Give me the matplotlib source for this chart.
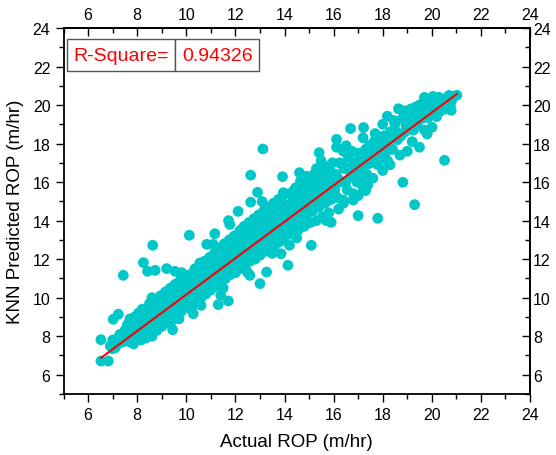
import numpy as np
import matplotlib
matplotlib.use("Agg")
import matplotlib.pyplot as plt
from matplotlib.ticker import MultipleLocator

plt.rcParams['font.family'] = ['Liberation Sans', 'DejaVu Sans']

# dense band of points (actual, predicted)
band_x = [6.9, 7.0, 7.1, 7.2, 7.3, 7.4, 7.5, 7.55, 7.6, 7.0, 7.2,
          7.7, 7.7, 7.75, 7.8, 7.85, 7.9, 7.95, 8.0, 8.0, 8.05, 8.1, 8.15, 8.2, 8.2, 8.25, 8.3, 8.3,
          8.35, 8.4, 8.45, 8.5, 8.5, 8.55, 8.6, 8.6, 8.6,
          8.7, 8.7, 8.75, 8.8, 8.85, 8.9, 8.95, 9.0, 9.0, 9.05, 9.1, 9.15, 9.2, 9.2, 9.25, 9.3, 9.35,
          9.4, 9.4, 9.45, 9.5, 9.55, 9.6, 9.6, 9.65, 9.7, 9.75, 9.8, 9.8, 9.85, 9.9, 9.95, 10.0, 10.0,
          10.05, 10.1, 10.15, 10.2, 10.2, 10.25, 10.3, 10.35, 10.4, 10.4, 10.45, 10.5, 10.55, 10.6,
          10.6, 10.65, 10.7, 10.75, 10.8, 10.8, 10.85, 10.9, 10.95, 11.0, 11.0, 11.05, 11.1, 11.15,
          11.2, 11.2, 11.25, 11.3, 11.35, 11.4, 11.4, 11.45, 11.5, 11.55, 11.6, 11.6, 11.65, 11.7,
          11.75, 11.8, 11.8, 11.85, 11.9, 11.95, 12.0, 12.0,
          12.05, 12.1, 12.15, 12.2, 12.2, 12.25, 12.3, 12.35, 12.4, 12.4, 12.45, 12.5, 12.55, 12.6,
          12.6, 12.65, 12.7, 12.75, 12.8, 12.8, 12.85, 12.9, 12.95, 13.0, 13.0, 13.05, 13.1, 13.15,
          13.2, 13.2, 13.25, 13.3, 13.35, 13.4, 13.4, 13.45, 13.5, 13.55, 13.6, 13.6, 13.65, 13.7,
          13.75, 13.8, 13.8, 13.85, 13.9, 13.95, 14.0, 14.0,
          14.1, 14.15, 14.2, 14.25, 14.3, 14.35, 14.4, 14.45, 14.5, 14.55, 14.6, 14.65, 14.7, 14.75,
          14.8, 14.85, 14.9, 14.95, 15.0, 15.05, 15.1, 15.15, 15.2, 15.25, 15.3, 15.35, 15.4, 15.45,
          15.5, 15.55, 15.6, 15.65, 15.7, 15.75, 15.8, 15.85, 15.9, 15.95, 16.0,
          16.1, 16.15, 16.25, 16.3, 16.4, 16.45, 16.55, 16.6, 16.7, 16.8, 16.85, 16.95, 17.0, 17.1,
          17.2, 17.25, 17.35, 17.45, 17.5, 17.6, 17.7, 17.8, 17.85, 17.95, 18.0,
          18.1, 18.2, 18.3, 18.4, 18.5, 18.6, 18.7, 18.8, 18.9, 19.0, 19.1, 19.2, 19.3, 19.4, 19.5,
          19.6, 19.7, 19.8, 19.9, 20.0, 20.1, 20.2, 20.3, 20.4, 20.5, 20.6, 20.7, 20.8]
band_y = [7.5, 7.8, 7.4, 7.9, 8.1, 7.7, 8.3, 7.9, 8.6, 7.35, 7.6,
          8.0, 8.9, 7.7, 8.4, 7.6, 9.0, 8.2, 8.6, 7.9, 9.2, 8.3, 7.8, 8.8, 9.4, 8.1, 8.5, 9.0,
          7.9, 8.7, 9.3, 8.2, 9.7, 8.9, 8.0, 9.4, 10.0,
          8.6, 9.1, 9.8, 8.3, 9.5, 8.9, 10.1, 9.2, 8.5, 9.7, 8.9, 10.3, 9.4, 8.7, 9.9, 9.1, 10.5,
          9.6, 8.8, 10.0, 9.3, 10.7, 9.8, 9.0, 10.3, 9.5, 10.9, 10.0, 9.3, 10.5, 9.7, 11.0, 10.2, 9.5,
          10.7, 9.9, 11.2, 10.4, 9.4, 10.9, 10.1, 11.5, 10.6, 9.8, 11.1, 10.3, 11.8, 10.8,
          10.0, 11.3, 10.5, 11.9, 11.0, 10.2, 11.6, 10.7, 12.1, 11.2, 10.4, 11.8, 10.9, 12.3,
          11.4, 10.6, 12.0, 11.1, 12.6, 11.6, 10.8, 12.2, 11.3, 12.8, 11.8, 11.0, 12.4, 11.5,
          13.0, 12.0, 11.2, 12.6, 11.7, 13.2, 12.2, 11.3,
          12.8, 11.8, 13.4, 12.4, 11.5, 13.0, 12.0, 13.7, 12.6, 11.6, 13.2, 12.2, 13.9, 12.8,
          11.9, 13.4, 12.4, 14.1, 13.0, 12.0, 13.6, 12.6, 14.3, 13.2, 12.2, 13.8, 12.8, 14.5,
          13.4, 12.4, 14.0, 13.0, 14.7, 13.6, 12.5, 14.2, 13.1, 14.9, 13.8, 12.7, 14.4, 13.3,
          15.1, 14.0, 12.9, 14.6, 13.5, 15.3, 14.2, 13.1,
          14.8, 13.6, 15.4, 14.3, 13.3, 15.0, 13.9, 15.7, 14.5, 13.5, 15.2, 14.1, 16.0, 14.7,
          13.7, 15.4, 14.3, 16.2, 14.9, 13.9, 15.6, 14.5, 16.4, 15.1, 14.0, 15.8, 14.7, 16.6,
          15.3, 14.2, 16.0, 14.9, 16.8, 15.5, 14.4, 16.2, 15.1, 17.0, 15.7,
          16.4, 15.2, 17.0, 16.0, 14.9, 16.7, 15.6, 17.3, 16.3, 15.4, 17.0, 16.0, 17.5, 16.6,
          15.7, 17.3, 16.4, 17.9, 17.0, 16.2, 17.6, 16.9, 18.3, 17.3, 16.6,
          18.0, 17.1, 18.6, 17.7, 19.0, 18.2, 17.4, 19.3, 18.6, 19.7, 18.9, 18.1, 19.5, 19.0, 20.0,
          19.3, 18.7, 19.9, 20.3, 19.6, 20.2, 19.4, 20.4, 19.9, 20.3, 19.8, 20.5, 20.2]

# extra points filling the gaps inside the band and roughening its edges
fill_x = [7.65, 7.72, 7.83, 7.88, 7.97, 8.03, 8.08, 8.12, 8.18, 8.27, 8.33, 8.38, 8.42, 8.48, 8.53, 8.58,
          8.65, 8.72, 8.78, 8.83, 8.92, 8.97, 9.03, 9.08, 9.13, 9.18, 9.23, 9.28, 9.33, 9.38, 9.43,
          9.48, 9.53, 9.58, 9.63, 9.68, 9.72, 9.78, 9.83, 9.88, 9.93, 9.97,
          10.03, 10.08, 10.12, 10.18, 10.23, 10.28, 10.33, 10.38, 10.43, 10.48, 10.53, 10.58, 10.63,
          10.68, 10.73, 10.78, 10.83, 10.88, 10.93, 10.97, 11.03, 11.08, 11.13, 11.18, 11.23, 11.28,
          11.33, 11.38, 11.43, 11.48, 11.53, 11.58, 11.63, 11.68, 11.73, 11.78, 11.83, 11.88, 11.93, 11.98,
          12.03, 12.08, 12.13, 12.18, 12.23, 12.28, 12.33, 12.38, 12.43, 12.48, 12.53, 12.58, 12.63,
          12.68, 12.73, 12.78, 12.83, 12.88, 12.93, 12.98, 13.03, 13.08, 13.13, 13.18, 13.23, 13.28,
          13.33, 13.38, 13.43, 13.48, 13.53, 13.58, 13.63, 13.68, 13.73, 13.78, 13.83, 13.88, 13.93, 13.98,
          14.05, 14.12, 14.18, 14.22, 14.28, 14.32, 14.38, 14.42, 14.48, 14.52, 14.58, 14.62, 14.68,
          14.72, 14.78, 14.82, 14.88, 14.92, 14.98, 15.02, 15.08, 15.12, 15.18, 15.22, 15.28, 15.32,
          15.38, 15.42, 15.48, 15.52, 15.58, 15.62, 15.68, 15.72, 15.78, 15.82, 15.88, 15.92, 15.98,
          16.05, 16.2, 16.35, 16.5, 16.65, 16.75, 16.9, 17.05, 17.15, 17.3, 17.4, 17.55, 17.65, 17.75,
          17.9, 18.05,
          18.15, 18.35, 18.45, 18.55, 18.75, 18.85, 18.95, 19.05, 19.15, 19.25, 19.35, 19.45, 19.55,
          19.65, 19.75, 19.85, 19.95, 20.05, 20.15, 20.25, 20.35, 20.45, 20.55, 20.65, 20.75, 20.9,
          14.4, 14.9, 15.3, 13.6, 12.2, 11.3, 10.5, 15.7, 14.5, 13.5, 12.5, 11.5, 10.6, 9.7,
          16.2, 17.0, 18.3, 19.0, 18.0, 17.2, 16.4, 13.95, 14.65]
fill_y = [8.25, 7.85, 8.65, 8.05, 8.45, 8.15, 8.85, 8.55, 9.05, 8.35, 8.75, 9.15, 8.45, 8.95, 8.55, 9.15,
          8.75, 9.35, 8.95, 9.25, 9.35, 8.75, 9.55, 9.25, 9.6, 9.1, 9.55, 9.75, 9.3, 10.0, 9.45,
          9.85, 10.1, 9.55, 10.0, 10.4, 9.8, 10.25, 9.75, 10.15, 10.5, 9.9,
          10.35, 10.6, 10.15, 10.75, 10.25, 10.6, 10.95, 10.35, 10.8, 10.55, 11.1, 10.6, 11.0,
          11.4, 10.8, 11.3, 10.9, 11.25, 11.55, 11.0, 11.5, 11.2, 11.7, 11.1, 11.55, 11.85,
          11.3, 11.95, 11.5, 11.95, 11.6, 12.25, 11.7, 12.05, 12.4, 11.75, 12.3, 12.05, 12.55, 11.9,
          12.5, 12.1, 12.75, 12.3, 12.65, 13.15, 12.45, 12.95, 12.3, 12.85, 13.35, 12.55, 13.05,
          12.7, 13.3, 12.45, 13.2, 13.6, 12.95, 13.5, 12.6, 13.3, 13.8, 13.1, 13.65, 12.8,
          13.45, 14.05, 13.25, 13.85, 13.45, 14.25, 13.2, 13.95, 13.6, 14.35, 13.3, 14.05, 13.75, 14.6,
          13.7, 14.45, 14.0, 14.75, 13.95, 14.6, 15.25, 14.2, 14.9, 15.35, 14.4, 14.85, 15.55,
          14.3, 15.1, 15.75, 14.6, 15.3, 15.8, 14.5, 15.25, 16.0, 14.8, 15.55, 16.1, 14.75,
          15.45, 16.25, 15.05, 15.7, 16.4, 15.2, 15.85, 16.3, 15.05, 15.75, 16.55, 15.4, 16.05,
          15.6, 16.15, 16.9, 16.0, 16.75, 17.6, 16.5, 17.05, 16.2, 17.7, 16.95, 17.4, 18.1, 17.2,
          17.85, 18.4,
          17.6, 18.25, 19.2, 18.6, 18.4, 19.7, 18.95, 19.25, 19.8, 18.7, 19.9, 19.45, 19.7,
          20.1, 19.6, 19.35, 19.9, 20.45, 19.85, 20.05, 20.3, 20.1, 20.0, 20.35, 19.95, 20.45,
          15.6, 16.3, 16.7, 14.9, 13.5, 12.4, 11.5, 14.0, 13.1, 12.3, 11.3, 10.5, 9.6, 8.9,
          14.6, 15.3, 16.9, 17.6, 19.0, 18.3, 17.6, 15.45, 16.05]

# scattered points away from the band
out_x = [13.12, 12.62, 12.9, 12.62, 13.09, 12.11, 11.72, 11.77,
         21.02, 19.70, 18.64, 18.19, 16.69, 17.22, 17.69, 16.12, 16.12, 16.51, 15.41, 15.49,
         20.52, 18.82, 19.30, 17.80, 17.0, 16.80, 16.39, 13.92, 14.61, 15.90, 17.30, 17.39,
         19.81, 19.50, 20.01, 20.79, 20.38,
         15.09, 14.14, 14.2, 13.86,
         10.12, 8.63, 8.25, 7.43, 8.42, 8.73, 9.20, 9.54, 9.81, 6.52, 6.52, 6.82, 7.02, 7.23,
         11.30, 11.71, 11.40, 10.28, 9.44, 7.70, 13.0, 13.27, 12.59, 10.83, 11.16, 11.09]
out_y = [17.72, 16.36, 15.47, 14.96, 14.99, 14.48, 14.0, 13.8,
         20.51, 20.40, 19.81, 19.42, 18.78, 18.83, 18.52, 18.22, 17.81, 17.89, 17.53, 17.11,
         17.13, 15.99, 14.83, 14.12, 14.26, 15.07, 15.07, 16.28, 16.49, 13.91, 15.56, 15.85,
         18.5, 17.81, 18.85, 19.73, 19.71,
         12.72, 11.68, 12.72, 12.28,
         13.24, 12.72, 11.82, 11.16, 11.37, 11.42, 11.51, 11.37, 11.30, 7.82, 6.71, 6.71, 8.88, 9.14,
         9.64, 9.83, 10.12, 9.17, 8.34, 7.70, 10.73, 11.33, 11.16, 12.77, 13.32, 12.77]

fit_slope = 0.945
fit_intercept = 0.71
r_square = '0.94326'

x = np.array(band_x + fill_x + out_x)
y = np.array(band_y + fill_y + out_y)

fig = plt.figure(figsize=(5.56, 4.56), dpi=100)
ax = fig.add_axes([0.1144, 0.1338, 0.8388, 0.8026])

ax.scatter(x, y, s=60, color='#00C8C8', edgecolors='none', zorder=2)
lx = np.array([x.min(), x.max()])
ax.plot(lx, fit_intercept + fit_slope * lx, color='red', lw=1.5, zorder=3)

ax.set_xlim(5, 24)
ax.set_ylim(5, 24)
for a in (ax.xaxis, ax.yaxis):
    a.set_major_locator(MultipleLocator(2))
    a.set_minor_locator(MultipleLocator(1))
ax.tick_params(which='major', direction='out', length=6, width=1, labelsize=11.5)
ax.tick_params(which='minor', direction='out', length=3.5, width=1)
for s in ax.spines.values():
    s.set_linewidth(1.3)

top = ax.secondary_xaxis('top')
top.xaxis.set_major_locator(MultipleLocator(2))
top.xaxis.set_minor_locator(MultipleLocator(1))
top.tick_params(which='major', direction='in', length=6, width=1, labelsize=11.5, pad=4)
top.tick_params(which='minor', direction='in', length=3.5, width=1)
top.spines['top'].set_linewidth(1.3)

right = ax.secondary_yaxis('right')
right.yaxis.set_major_locator(MultipleLocator(2))
right.yaxis.set_minor_locator(MultipleLocator(1))
right.tick_params(which='major', direction='in', length=6, width=1, labelsize=11.5, pad=2)
right.tick_params(which='minor', direction='in', length=3.5, width=1)
right.spines['right'].set_linewidth(1.3)

ax.set_xlabel('Actual ROP (m/hr)', fontsize=13.5, labelpad=8)
ax.set_ylabel('KNN Predicted ROP (m/hr)', fontsize=13.5, labelpad=6)

tbl = ax.table(cellText=[['R-Square=', r_square]], colWidths=[0.5625, 0.4375],
               cellLoc='center', bbox=[0.0073, 0.8825, 0.412, 0.087])
tbl.auto_set_font_size(False)
for (r, c), cell in tbl.get_celld().items():
    cell.set_fontsize(14)
    cell.get_text().set_color('red')
    cell.set_edgecolor('#555555')
    cell.set_linewidth(1.0)

fig.savefig('out.png', dpi=100)
